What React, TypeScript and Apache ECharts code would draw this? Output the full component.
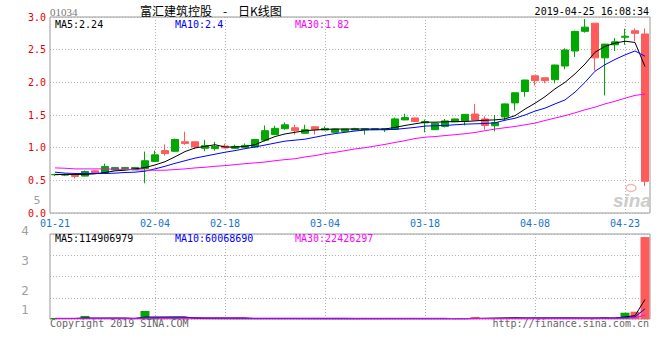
import React, { useEffect, useRef } from "react";
import * as echarts from "echarts";

const dates = ["01-21","01-22","01-23","01-24","01-25","01-28","01-29","01-30","01-31","02-01","02-04","02-08","02-11","02-12","02-13","02-14","02-15","02-18","02-19","02-20","02-21","02-22","02-25","02-26","02-27","02-28","03-01","03-04","03-05","03-06","03-07","03-08","03-11","03-12","03-13","03-14","03-15","03-18","03-19","03-20","03-21","03-22","03-25","03-26","03-27","03-28","03-29","04-01","04-08","04-09","04-10","04-11","04-12","04-15","04-16","04-17","04-18","04-23","04-24","04-25"];

const opens = [0.585,0.58,0.585,0.565,0.645,0.615,0.66,0.68,0.66,0.68,
  0.79,0.955,0.945,1.09,1.09,0.99,0.985,1.025,0.99,1.0,
  1.01,1.115,1.2,1.29,1.305,1.22,1.32,1.27,1.235,1.25,
  1.27,1.275,1.275,1.275,1.28,1.425,1.455,1.38,1.275,1.325,
  1.395,1.41,1.515,1.44,1.335,1.47,1.685,1.86,2.10,2.07,
  2.04,2.25,2.48,2.78,2.905,2.375,2.575,2.69,2.79,2.74];
const closes = [0.59,0.585,0.56,0.635,0.61,0.71,0.695,0.695,0.695,0.80,
  0.89,0.91,1.125,1.065,1.01,1.03,1.02,0.995,1.02,1.035,
  1.125,1.26,1.295,1.35,1.26,1.275,1.275,1.295,1.285,1.285,
  1.29,1.29,1.29,1.29,1.44,1.46,1.40,1.40,1.375,1.41,
  1.44,1.51,1.425,1.34,1.385,1.67,1.84,2.035,2.025,2.025,
  2.265,2.495,2.78,2.845,2.375,2.585,2.62,2.705,2.75,0.485];
const lows = [0.565,0.565,0.53,0.56,0.60,0.61,0.655,0.68,0.66,0.455,
  0.79,0.88,0.94,1.045,0.975,0.945,0.955,0.99,0.985,1.0,
  1.0,1.095,1.195,1.275,1.20,1.215,1.20,1.265,1.235,1.24,
  1.27,1.20,1.275,1.24,1.275,1.42,1.40,1.235,1.27,1.31,
  1.39,1.34,1.42,1.275,1.25,1.415,1.57,1.78,1.95,1.985,
  1.985,2.20,2.39,2.76,2.18,1.80,2.48,2.575,2.63,0.41];
const highs = [0.60,0.60,0.585,0.65,0.65,0.755,0.70,0.70,0.70,0.94,
  0.955,1.05,1.14,1.245,1.09,1.12,1.09,1.06,1.045,1.065,
  1.13,1.34,1.335,1.385,1.35,1.35,1.32,1.325,1.29,1.285,
  1.305,1.29,1.29,1.29,1.46,1.52,1.46,1.43,1.38,1.44,
  1.445,1.515,1.67,1.48,1.50,1.675,1.84,2.04,2.10,2.07,
  2.27,2.52,2.79,2.97,2.905,2.59,2.68,2.82,2.825,2.825];

const ma5 = [0.59,0.59,0.59,0.59,0.60,0.62,0.645,0.655,0.675,0.695,
  0.735,0.785,0.86,0.94,0.995,1.02,1.045,1.01,1.01,1.02,
  1.045,1.11,1.17,1.21,1.235,1.26,1.27,1.28,1.285,1.285,
  1.285,1.285,1.285,1.285,1.31,1.34,1.365,1.39,1.39,1.395,
  1.40,1.40,1.41,1.42,1.425,1.44,1.49,1.59,1.68,1.78,
  1.90,2.00,2.13,2.28,2.46,2.55,2.60,2.63,2.61,2.24];
const ma10 = [0.625,0.61,0.605,0.605,0.605,0.605,0.61,0.62,0.625,0.64,
  0.675,0.715,0.76,0.80,0.84,0.87,0.90,0.93,0.955,0.985,
  1.01,1.04,1.07,1.10,1.115,1.13,1.16,1.19,1.215,1.235,
  1.255,1.27,1.275,1.275,1.28,1.295,1.31,1.33,1.335,1.34,
  1.35,1.36,1.365,1.37,1.38,1.42,1.45,1.50,1.56,1.605,
  1.67,1.73,1.85,2.0,2.17,2.27,2.35,2.42,2.48,2.40];
const ma30 = [0.69,0.685,0.675,0.675,0.675,0.675,0.67,0.665,0.665,0.655,
  0.655,0.655,0.665,0.675,0.69,0.70,0.715,0.725,0.74,0.755,
  0.767,0.78,0.80,0.817,0.83,0.858,0.878,0.908,0.928,0.954,
  0.98,1.0,1.025,1.05,1.08,1.107,1.14,1.16,1.17,1.185,
  1.198,1.213,1.233,1.259,1.285,1.305,1.325,1.35,1.376,1.416,
  1.453,1.49,1.533,1.58,1.62,1.67,1.71,1.757,1.80,1.82];

// volumes in millions of shares
const volumesM = [2,1.5,2,18,2,3,2,1.5,2,47,
  6,3,4,2,2,1.5,1.5,1,1,1.5,
  2,3,2,2,1.5,1.5,1,1,1,1,
  1.5,1.5,1.5,1.5,2,1.5,1.5,1.5,1.5,1.5,
  1.5,1.5,12,6,6,6,6,6,6,6,
  4,5,6,5,6.2,8,4.5,37,43,482];
const vma5 = [3,3,3,5.9,5.1,5.3,5.4,5.3,2.1,11.1,
  11.7,11.9,12.4,12.4,3.4,2.5,2.2,1.6,1.4,1.3,
  1.6,1.9,2.1,2.1,2.1,1.8,1.4,1.2,1.1,1.0,
  1.1,1.2,1.3,1.4,1.6,1.6,1.6,1.6,1.6,1.5,
  1.5,1.5,3.6,4.5,5.4,6.3,7.2,6,6,6,
  5.6,5.4,5.4,5.2,5.2,5.6,5.3,12.1,19.7,114.9];
const vma10 = [3,3,3,4,4,4,4,4,4,8,
  8,8,8,8,8,7,7,7,7,7,
  2.4,2.2,2,1.9,1.8,1.7,1.6,1.6,1.6,1.6,
  1.5,1.5,1.4,1.4,1.4,1.4,1.4,1.4,1.5,1.5,
  1.5,1.5,2.6,3,3.5,3.9,4.4,4.6,5,5.3,
  5.7,6.2,5.7,5.6,5.6,5.8,5.6,8.8,12.6,60.1];
const vma30 = [4,4,4,4,4,4,4,4,4,5,
  5,5,5,5,5,5,5,5,5,5,
  5,5,5,5,5,5,5,5,5,5,
  4.4,4.4,4.4,4.4,4.4,4.4,4.3,4.3,4.3,4.3,
  2.2,2.2,2.5,2.6,2.7,2.9,3,3.1,3.3,3.4,
  3.5,3.6,3.6,3.7,3.8,4,4.1,5.2,6.5,22.4];

const labelDates = ["01-21","02-04","02-18","03-04","03-18","04-08","04-23"];
const volTickLabels = ["4","3","2","1"];
const priceLegend = ["MA5:2.24","MA10:2.4","MA30:1.82"];
const volLegend = ["MA5:114906979","MA10:60068690","MA30:22426297"];
const stockCode = "01034";
const titleName = "富汇建筑控股";
const titleKind = "日K线图";
const timestamp = "2019-04-25 16:08:34";

const UP = "#00a800";
const DOWN = "#ff5b5b";
const MA_COLORS = ["#000000", "#0000ff", "#ff00ff"];
const MONO = "DejaVu Sans Mono";

function txt(text: string, x: number, y: number, fill: string, font: string, align: string = "left") {
  return {
    type: "text",
    x,
    y,
    silent: true,
    z: 10,
    style: { text, fill, font, align, textAlign: align, verticalAlign: "middle", textVerticalAlign: "middle" },
  };
}

export default function App() {
  const ref = useRef<HTMLDivElement>(null);
  useEffect(() => {
    const chart = echarts.init(ref.current!, null, { renderer: "svg" });
    const isUp = closes.map((c, i) => c >= opens[i]);
    const candleData = dates.map((_, i) => [opens[i], closes[i], lows[i], highs[i]]);
    const volData = volumesM.map((v, i) => ({ value: v, itemStyle: { color: isUp[i] ? UP : DOWN } }));
    const labelIdx = labelDates.map((d) => dates.indexOf(d));
    const splitIdx = labelIdx.filter((i) => i > 0);
    const dotted = { color: "#b0b0b0", type: [1, 2], width: 1 };

    const xAxisFor = (gridIndex: number, showLabel: boolean) => ({
      type: "category",
      gridIndex,
      data: dates,
      boundaryGap: true,
      axisLine: { show: false },
      axisTick: { show: false },
      axisLabel: showLabel
        ? { interval: (i: number) => labelIdx.includes(i), color: "#1874cd", fontFamily: MONO, fontSize: 10, margin: 5 }
        : { show: false },
      splitLine: { show: true, interval: (i: number) => splitIdx.includes(i), alignWithLabel: true, lineStyle: dotted },
    });

    const maLine = (name: string, data: number[], color: string, xi: number, yi: number) => ({
      name,
      type: "line",
      xAxisIndex: xi,
      yAxisIndex: yi,
      data,
      symbol: "none",
      showSymbol: false,
      z: 4,
      lineStyle: { color, width: 1 },
      itemStyle: { color },
    });

    const legendX = [55, 175, 295];
    const volLabelY = [231, 261, 291, 310];

    const graphics: any[] = [
      txt(stockCode, 50, 12, "#777777", "11px 'Liberation Serif'"),
      txt(titleName, 140, 10.5, "#000000", "12px 'Noto Sans CJK SC'"),
      txt("-", 225, 10.5, "#000000", "12px 'Noto Sans CJK SC'", "center"),
      txt(titleKind, 238, 10.5, "#000000", "12px 'Noto Sans CJK SC'"),
      txt(timestamp, 649, 11, "#000000", `10px '${MONO}'`, "right"),
      ...priceLegend.map((t, i) => txt(t, legendX[i], 24, MA_COLORS[i], `10px '${MONO}'`)),
      ...volLegend.map((t, i) => txt(t, legendX[i], 238.5, MA_COLORS[i], `10px '${MONO}'`)),
      ...volTickLabels.map((t, i) => txt(t, 25, volLabelY[i], "#a0a0a0", "12px 'DejaVu Sans'", "center")),
      txt("5", 37, 200, "#a0a0a0", "11px 'DejaVu Sans'", "center"),
      txt("Copyright 2019 SINA.COM", 50, 323.5, "#666666", `10px '${MONO}'`),
      txt("http://finance.sina.com.cn", 649, 323.5, "#666666", `10px '${MONO}'`, "right"),
      txt("sina", 632, 200, "#cccccc", "italic bold 19px 'Liberation Sans'", "center"),
      {
        type: "ellipse",
        silent: true,
        z: 10,
        shape: { cx: 631, cy: 188, rx: 5, ry: 3.5 },
        style: { fill: "none", stroke: "#f2b8b8", lineWidth: 1.5 },
      },
    ];

    chart.setOption({
      animation: false,
      backgroundColor: "#ffffff",
      grid: [
        { left: 50, top: 17, width: 600, height: 196, show: true, borderColor: "#999999", borderWidth: 1 },
        { left: 50, top: 234, width: 600, height: 85, show: true, borderColor: "#999999", borderWidth: 1 },
      ],
      xAxis: [xAxisFor(0, true), xAxisFor(1, false)],
      yAxis: [
        {
          type: "value",
          gridIndex: 0,
          min: 0,
          max: 3,
          interval: 0.5,
          axisLine: { show: false },
          axisTick: { show: false },
          axisLabel: { color: "#e50000", fontFamily: MONO, fontSize: 10, margin: 4, formatter: (v: number) => v.toFixed(1) },
          splitLine: { show: true, lineStyle: dotted },
        },
        {
          type: "value",
          gridIndex: 1,
          min: 0,
          max: 500,
          interval: 125,
          axisLine: { show: false },
          axisTick: { show: false },
          axisLabel: { show: false },
          splitLine: { show: true, lineStyle: dotted },
        },
      ],
      series: [
        {
          type: "candlestick",
          xAxisIndex: 0,
          yAxisIndex: 0,
          data: candleData,
          barWidth: 8,
          z: 3,
          itemStyle: { color: UP, color0: DOWN, borderColor: UP, borderColor0: DOWN, borderWidth: 1 },
        },
        maLine("MA5", ma5, MA_COLORS[0], 0, 0),
        maLine("MA10", ma10, MA_COLORS[1], 0, 0),
        maLine("MA30", ma30, MA_COLORS[2], 0, 0),
        {
          type: "bar",
          xAxisIndex: 1,
          yAxisIndex: 1,
          data: volData,
          barWidth: 9,
          barMinHeight: 1,
          z: 3,
        },
        maLine("VMA5", vma5, MA_COLORS[0], 1, 1),
        maLine("VMA10", vma10, MA_COLORS[1], 1, 1),
        maLine("VMA30", vma30, MA_COLORS[2], 1, 1),
      ],
      graphic: graphics,
    });
    return () => chart.dispose();
  }, []);
  return <div ref={ref} style={{ position: "fixed", left: 0, top: 0, width: 660, height: 360 }} />;
}
